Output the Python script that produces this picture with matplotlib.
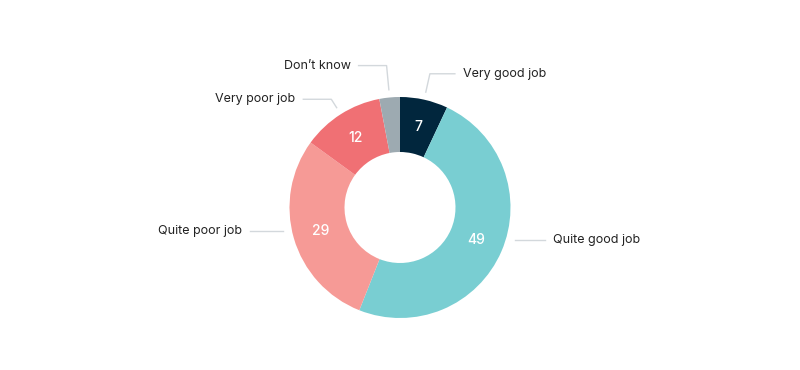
import numpy as np
import matplotlib.pyplot as plt

plt.rcParams['font.family'] = ['Inter', 'DejaVu Sans']

labels = ['Very good job', 'Quite good job', 'Quite poor job', 'Very poor job', "Don\u2019t know"]
values = [7, 49, 29, 12, 3]
colors = ['#01263D', '#79CED2', '#F69A96', '#F07074', '#9DAAB1']
show_value = [True, True, True, True, False]

# leader line layout: elbow radius factor (None = straight line at value height), horizontal length
elbow = [1.24, None, None, 1.16, 1.29]
hlen = [25, 30, 33, 28, 28]

fig = plt.figure(figsize=(8, 3.7), dpi=100)
ax = fig.add_axes([0, 0, 1, 1])

cx, cy, R = 400, 162.5, 110.5
rv = R - 28
wedges, _ = ax.pie(values, colors=colors, startangle=90, counterclock=False,
                   radius=R, center=(cx, cy), frame=True,
                   wedgeprops=dict(width=55, edgecolor='none', linewidth=0))
ax.set_xlim(0, 800)
ax.set_ylim(0, 370)
ax.set_aspect('equal')
ax.axis('off')

for w, lab, v, sv, e, h in zip(wedges, labels, values, show_value, elbow, hlen):
    mid = np.deg2rad((w.theta1 + w.theta2) / 2)
    c, s = np.cos(mid), np.sin(mid)
    if sv:
        ax.text(cx + rv * c, cy + rv * s, str(v), color='white', fontsize=10,
                fontweight='medium', ha='center', va='center')
    side = 1 if c > 0 else -1
    if e is None:
        y1 = cy + rv * s
        x1 = cx + side * (np.sqrt(R ** 2 - (rv * s) ** 2) + 9)
        x2 = x1 + side * h
        ax.plot([x1, x2], [y1, y1], color='#D3D8DC', lw=1)
    else:
        x0, y0 = cx + R * 1.07 * c, cy + R * 1.07 * s
        x1, y1 = cx + R * e * c, cy + R * e * s
        x2 = x1 + side * h
        ax.plot([x0, x1, x2], [y0, y1, y1], color='#D3D8DC', lw=1)
    ax.text(x2 + side * 8, y1, lab, color='#222222', fontsize=9,
            ha='left' if side > 0 else 'right', va='center')

fig.savefig('out.png', dpi=100)
